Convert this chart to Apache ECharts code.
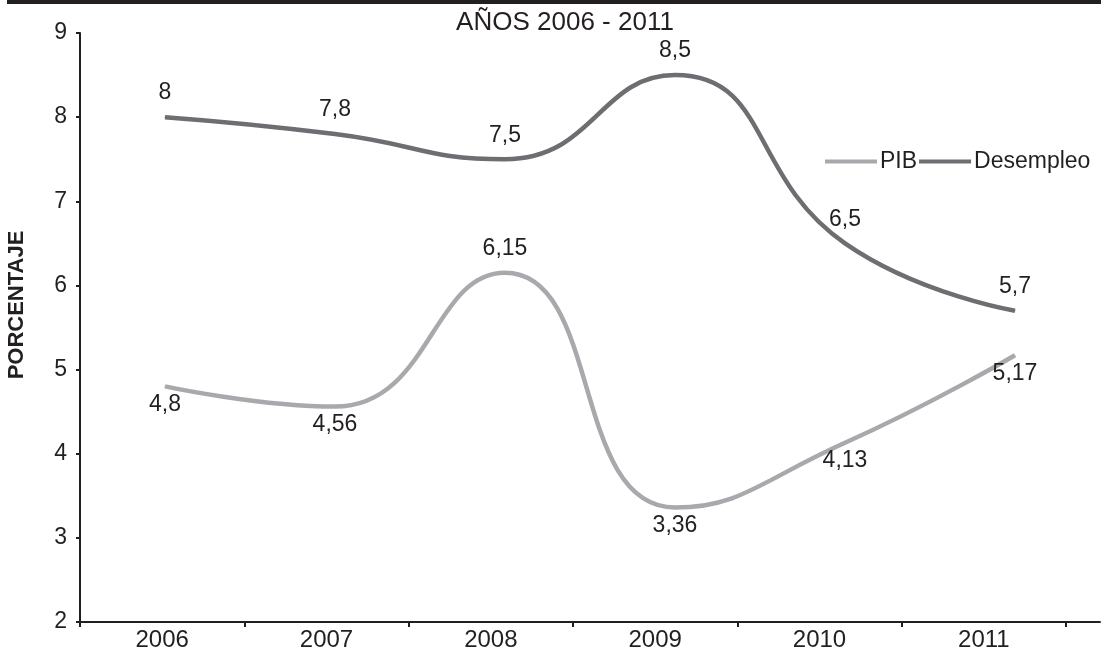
<!DOCTYPE html>
<html>
<head>
<meta charset="utf-8">
<script src="https://cdn.jsdelivr.net/npm/echarts@6/dist/echarts.min.js"></script>
<style>
  html, body { margin: 0; padding: 0; background: #ffffff; }
  #chart { width: 1101px; height: 654px; }
</style>
</head>
<body>
<div id="chart"></div>
<script>
// ---- data ----
const categories = ['2006', '2007', '2008', '2009', '2010', '2011'];
const pib = [4.8, 4.56, 6.15, 3.36, 4.13, 5.17];
const desempleo = [8, 7.8, 7.5, 8.5, 6.5, 5.7];
const yMin = 2, yMax = 9, yStep = 1;
const titleText = 'AÑOS 2006 - 2011';
const yName = 'PORCENTAJE';
const seriesNames = ['PIB', 'Desempleo'];

// ---- style ----
const ink = '#231f20';
const font = 'Liberation Sans, Arial, Helvetica, sans-serif';
const colPib = '#a7a9ac';
const colDes = '#6d6e71';
const fmt = v => String(v).replace('.', ',');

// PIB labels go below, except interior peaks which go above
const pibData = pib.map((v, i) => {
  const peak = i > 0 && i < pib.length - 1 && v > pib[i - 1] && v > pib[i + 1];
  return peak ? { value: v, label: { position: 'top', distance: 12 } } : v;
});

const chart = echarts.init(document.getElementById('chart'), null, { renderer: 'canvas' });
chart.setOption({
  animation: false,
  backgroundColor: '#ffffff',
  textStyle: { fontFamily: font, color: ink },
  title: {
    text: titleText,
    left: 560,
    top: 5,
    textAlign: 'center',
    textStyle: { fontFamily: font, fontSize: 26, fontWeight: 'normal', color: ink }
  },
  legend: {
    data: seriesNames,
    left: 820,
    top: 145,
    icon: 'rect',
    itemWidth: 52,
    itemHeight: 4,
    itemGap: 2,
    textStyle: { fontFamily: font, fontSize: 23, color: ink, padding: [0, 0, 0, -2] }
  },
  graphic: [
    { type: 'rect', shape: { x: 7, y: 0, width: 1094, height: 4 }, style: { fill: ink }, z: 10 },
    {
      type: 'text', x: 17, y: 305, rotation: Math.PI / 2,
      style: { text: yName, fill: ink, font: 'bold 22px ' + font, align: 'center', verticalAlign: 'middle' }
    }
  ],
  grid: [
    { left: 80, right: 1, top: 33, bottom: 32, containLabel: false },
    { left: 80, right: 35, top: 33, bottom: 32, containLabel: false }
  ],
  xAxis: [
    {
      gridIndex: 0, type: 'category', data: categories, boundaryGap: true,
      axisLine: { show: true, lineStyle: { color: ink, width: 2 } },
      axisTick: { show: false }, axisLabel: { show: false }, splitLine: { show: false }
    },
    {
      gridIndex: 1, type: 'category', data: categories, boundaryGap: true,
      axisLine: { show: false },
      axisTick: { show: true, inside: false, length: 5, lineStyle: { color: ink, width: 2 } },
      axisLabel: { show: true, margin: 6, fontSize: 24, color: ink, fontFamily: font },
      splitLine: { show: false }
    }
  ],
  yAxis: [
    {
      gridIndex: 0, type: 'value', min: yMin, max: yMax, interval: yStep,
      axisLine: { show: true, lineStyle: { color: ink, width: 2 } },
      axisTick: { show: true, inside: false, length: 4, lineStyle: { color: ink, width: 2 } },
      axisLabel: { margin: 13, fontSize: 23, color: ink, fontFamily: font },
      splitLine: { show: false }
    },
    { gridIndex: 1, type: 'value', min: yMin, max: yMax, interval: yStep, show: false }
  ],
  series: [
    {
      name: seriesNames[0], type: 'line', xAxisIndex: 0, yAxisIndex: 0,
      data: pibData, smooth: 0.5,
      symbol: 'circle', symbolSize: 1, showSymbol: true,
      lineStyle: { color: colPib, width: 4.5 },
      itemStyle: { color: colPib },
      label: { show: true, position: 'bottom', distance: 6, formatter: p => fmt(p.value),
               fontSize: 23, color: ink, fontFamily: font },
      emphasis: { disabled: true }
    },
    {
      name: seriesNames[1], type: 'line', xAxisIndex: 0, yAxisIndex: 0,
      data: desempleo, smooth: 0.5,
      symbol: 'circle', symbolSize: 1, showSymbol: true,
      lineStyle: { color: colDes, width: 4.5 },
      itemStyle: { color: colDes },
      label: { show: true, position: 'top', distance: 12, formatter: p => fmt(p.value),
               fontSize: 23, color: ink, fontFamily: font },
      emphasis: { disabled: true }
    }
  ]
});
</script>
</body>
</html>
